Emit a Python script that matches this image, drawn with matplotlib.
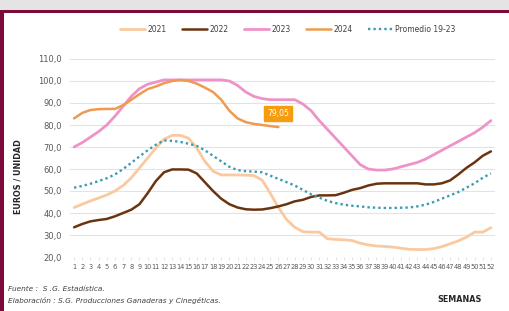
import matplotlib
matplotlib.use("Agg")
import matplotlib.pyplot as plt
from matplotlib.patches import Rectangle

weeks = list(range(1, 53))
week_labels = [str(w) for w in weeks]

y2021 = [42.5, 44, 45.5, 46.8, 48.2, 50, 52.5, 56, 60.5, 65, 69.5, 73.5, 75.3, 75.3, 74, 69.5,
         63.5, 59, 57.3, 57.3, 57.3, 57.2, 57, 55, 49, 42.5, 37, 33.5, 31.5, 31.3, 31.3, 28.3,
         28, 27.8, 27.5, 26.3, 25.5, 25, 24.8, 24.5, 24, 23.5, 23.4, 23.4, 23.8, 24.7, 26,
         27.3, 29, 31.3, 31.3, 33.3]
y2022 = [33.5, 35, 36.2, 36.8, 37.3, 38.5, 40, 41.5, 44, 49, 54.5, 58.5, 59.8, 59.8, 59.7, 58,
         54, 50, 46.5, 44, 42.5, 41.7, 41.5, 41.6, 42.2, 43, 44, 45.3, 46, 47.3, 48, 48, 48.1,
         49.2, 50.5, 51.3, 52.5, 53.3, 53.5, 53.5, 53.5, 53.5, 53.5, 53, 53, 53.5, 54.8, 57.5,
         60.5, 63, 66, 68]
y2023 = [70, 72, 74.5, 77, 80, 84, 88.5, 93, 96.5, 98.5, 99.5, 100.5, 100.5, 100.5, 100.5,
         100.5, 100.5, 100.5, 100.5, 100, 98, 95, 93, 92, 91.5, 91.5, 91.5, 91.5, 89.5, 86.5,
         82, 78, 74, 70, 66, 62, 60, 59.5, 59.5, 60, 61, 62, 63, 64.5, 66.5, 68.5, 70.5, 72.5,
         74.5, 76.5, 79, 82]
y2024 = [83, 85.5, 86.8, 87.2, 87.3, 87.3, 89, 91.5, 94, 96.3, 97.5, 99, 100, 100.5, 100, 98.8,
         97, 95, 91.5, 86.5, 83, 81.3, 80.5, 80, 79.5, 79.05]
prom = [51.5, 52.3, 53.3, 54.5, 55.8, 57.5, 60, 62.8, 65.7, 68.5, 71, 73, 72.8, 72.3, 71.5,
        70.5, 68.5, 66, 63.5, 61, 59.5, 59, 58.8, 58.5, 57, 55.5, 54, 52.5, 50.5, 48.5, 47,
        45.5, 44.5, 43.8, 43.3, 43, 42.6, 42.4, 42.3, 42.3, 42.4, 42.5, 43, 43.8, 45, 46.5, 48,
        49.5, 51.5, 53.5, 56, 58]
last_label = "79,05"
yticks = [20, 30, 40, 50, 60, 70, 80, 90, 100, 110]

W, H = 509, 311
fig = plt.figure(figsize=(W / 100, H / 100), dpi=100)
fig.patch.set_facecolor("white")

# frame decorations
fig.patches.append(Rectangle((0, 1 - 10 / H), 1, 10 / H, transform=fig.transFigure,
                             facecolor="#E4E4E4", edgecolor="none", zorder=0))
fig.patches.append(Rectangle((0, 1 - 13 / H), 1, 3 / H, transform=fig.transFigure,
                             facecolor="#7A0B3B", edgecolor="none", zorder=1))
fig.patches.append(Rectangle((0, 0), 3.5 / W, 1 - 10 / H, transform=fig.transFigure,
                             facecolor="#7A0B3B", edgecolor="none", zorder=1))

ax = fig.add_axes([70 / W, 1 - 257 / H, (495 - 70) / W, (257 - 59) / H])
ax.set_xlim(0.5, 52.5)
ax.set_ylim(20, 110)
ax.set_yticks(yticks)
ax.set_yticklabels([f"{v:.1f}".replace(".", ",") for v in yticks])
ax.set_xticks(weeks)
ax.set_xticklabels(week_labels)
ax.tick_params(axis="y", length=0, labelsize=6, labelcolor="#595959", pad=6)
ax.tick_params(axis="x", length=2, width=0.5, color="#D9D9D9", labelsize=4.8,
               labelcolor="#595959", pad=3)
for s in ax.spines.values():
    s.set_visible(False)
ax.grid(axis="y", color="#E3E3E3", linewidth=0.8)
ax.set_axisbelow(True)

l1, = ax.plot(weeks, y2021, color="#F9C9A0", lw=2.0, label="2021", solid_capstyle="round")
l2, = ax.plot(weeks, y2022, color="#6B3410", lw=1.8, label="2022", solid_capstyle="round")
l3, = ax.plot(weeks, y2023, color="#EE93C8", lw=2.0, label="2023", solid_capstyle="round")
l4, = ax.plot(weeks[:len(y2024)], y2024, color="#EE9A50", lw=1.8, label="2024",
              solid_capstyle="round")
l5, = ax.plot(weeks, prom, color="#3C9BB0", lw=1.7, ls=(0, (1, 1.3)), label="Promedio 19-23")

ax.annotate(last_label, xy=(len(y2024), y2024[-1]), xytext=(0, 6.5), textcoords="offset points",
            ha="center", va="bottom", fontsize=5.5, color="white",
            bbox=dict(boxstyle="square,pad=0.4", fc="#F59C10", ec="#F59C10"))

fig.legend(handles=[l1, l2, l3, l4, l5], loc="center", bbox_to_anchor=(0.565, 1 - 29 / H),
           ncol=5, frameon=False, fontsize=5.5, handlelength=3.3, columnspacing=2.0,
           handletextpad=0.3, labelcolor="#404040")

fig.text(18 / W, 1 - 177 / H, "EUROS / UNIDAD", rotation=90, ha="center", va="center",
         fontsize=5.8, fontweight="bold", color="#262626")
fig.text(460 / W, 1 - 300 / H, "SEMANAS", ha="center", va="center", fontsize=5.8,
         fontweight="bold", color="#262626")
fig.text(8 / W, 1 - 289 / H, "Fuente :  S .G. Estadística.", ha="left", va="center",
         fontsize=5.3, style="italic", color="#404040")
fig.text(8 / W, 1 - 301 / H, "Elaboración : S.G. Producciones Ganaderas y Cinegéticas.",
         ha="left", va="center", fontsize=5.3, style="italic", color="#404040")

fig.savefig("out.png", dpi=100)
